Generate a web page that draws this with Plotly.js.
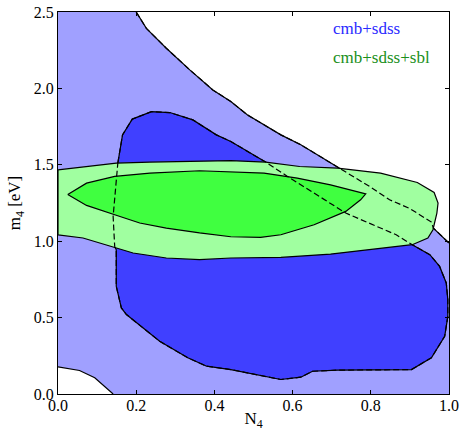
<!DOCTYPE html>
<html><head><meta charset="utf-8">
<script src="https://cdn.plot.ly/plotly-3.0.1.min.js"></script>
<style>html,body{margin:0;padding:0;background:#fff}#plot{width:462px;height:431px}</style>
</head><body><div id="plot"></div>
<script>
// Axis ranges
const xRange = [0, 1];
const yRange = [0, 2.5];
const xTicks = [0, 0.2, 0.4, 0.6, 0.8, 1.0];
const xTickLabels = ["0.0", "0.2", "0.4", "0.6", "0.8", "1.0"];
const yTicks = [0, 0.5, 1.0, 1.5, 2.0, 2.5];
const yTickLabels = ["0.0", "0.5", "1.0", "1.5", "2.0", "2.5"];

// cmb+sdss 95% region: upper-right contour (N4, m4)
const blue95UpperX = [0.200, 0.226, 0.277, 0.337, 0.396, 0.442, 0.484, 0.570, 0.621, 0.715, 0.797, 0.848, 0.899, 0.955, 0.960, 1.000];
const blue95UpperY = [2.500, 2.393, 2.263, 2.121, 1.990, 1.914, 1.827, 1.696, 1.631, 1.485, 1.358, 1.271, 1.215, 1.125, 1.086, 0.988];
// cmb+sdss 95% region: lower-left contour
const blue95LowerX = [0.000, 0.055, 0.094, 0.141];
const blue95LowerY = [0.178, 0.154, 0.106, 0.000];

// cmb+sdss 68% region (closed contour)
const blue68X = [0.153, 0.165, 0.190, 0.239, 0.286, 0.345, 0.405, 0.442, 0.531, 0.587, 0.736, 0.797, 0.865, 0.906, 0.951, 0.976, 0.993, 0.997, 0.997, 0.989, 0.955, 0.904, 0.715, 0.651, 0.621, 0.570, 0.442, 0.380, 0.332, 0.260, 0.217, 0.175, 0.162, 0.149, 0.149, 0.145, 0.141, 0.149, 0.153];
const blue68Y = [1.511, 1.696, 1.799, 1.848, 1.842, 1.794, 1.696, 1.652, 1.518, 1.424, 1.184, 1.119, 1.042, 0.977, 0.912, 0.835, 0.727, 0.618, 0.508, 0.378, 0.237, 0.160, 0.156, 0.149, 0.110, 0.095, 0.160, 0.182, 0.237, 0.345, 0.433, 0.520, 0.563, 0.705, 0.944, 0.966, 1.162, 1.424, 1.511];

// cmb+sdss+sbl 95% region (closed contour)
const green95X = [0.000, 0.064, 0.149, 0.235, 0.442, 0.531, 0.618, 0.715, 0.825, 0.919, 0.962, 0.972, 0.969, 0.959, 0.946, 0.906, 0.800, 0.697, 0.570, 0.442, 0.362, 0.277, 0.192, 0.149, 0.064, 0.000, 0.000];
const green95Y = [1.467, 1.485, 1.511, 1.518, 1.527, 1.518, 1.489, 1.478, 1.446, 1.384, 1.319, 1.250, 1.184, 1.075, 1.021, 0.977, 0.944, 0.916, 0.894, 0.890, 0.879, 0.890, 0.923, 0.956, 1.021, 1.042, 1.467];

// cmb+sdss+sbl 68% region (closed contour)
const green68X = [0.025, 0.073, 0.145, 0.235, 0.362, 0.442, 0.527, 0.612, 0.697, 0.787, 0.774, 0.736, 0.655, 0.570, 0.518, 0.442, 0.362, 0.277, 0.209, 0.145, 0.073, 0.025];
const green68Y = [1.305, 1.380, 1.424, 1.446, 1.461, 1.456, 1.446, 1.413, 1.369, 1.310, 1.271, 1.195, 1.108, 1.042, 1.025, 1.029, 1.054, 1.086, 1.119, 1.173, 1.234, 1.305];

const colLightBlue = "#a0a0ff";
const colBlue = "#4040ff";
const colLightGreen = "#a0ffa0";
const colGreen = "#40ff40";

// Light-blue fill polygon: left-top corner, upper contour, right-bottom corner, lower contour reversed
const blue95FillX = [xRange[0]].concat(blue95UpperX, [xRange[1]], blue95LowerX.slice().reverse());
const blue95FillY = [yRange[1]].concat(blue95UpperY, [yRange[0]], blue95LowerY.slice().reverse());

const solid = {color: "black", width: 1.2};
const dashed = {color: "black", width: 1.2, dash: "6px,3px"};

const traces = [
  {x: blue95FillX, y: blue95FillY, type: "scatter", mode: "lines", fill: "toself", fillcolor: colLightBlue, line: {width: 0}, hoverinfo: "skip"},
  {x: blue95UpperX, y: blue95UpperY, type: "scatter", mode: "lines", line: solid, hoverinfo: "skip"},
  {x: blue95LowerX, y: blue95LowerY, type: "scatter", mode: "lines", line: solid, hoverinfo: "skip"},
  {x: blue68X, y: blue68Y, type: "scatter", mode: "lines", fill: "toself", fillcolor: colBlue, line: solid, hoverinfo: "skip"},
  {x: green95X, y: green95Y, type: "scatter", mode: "lines", fill: "toself", fillcolor: colLightGreen, line: solid, hoverinfo: "skip"},
  {x: green68X, y: green68Y, type: "scatter", mode: "lines", fill: "toself", fillcolor: colGreen, line: solid, hoverinfo: "skip"},
  {x: blue95UpperX, y: blue95UpperY, type: "scatter", mode: "lines", line: dashed, hoverinfo: "skip"},
  {x: blue68X, y: blue68Y, type: "scatter", mode: "lines", line: dashed, hoverinfo: "skip"}
];

const font = "Liberation Serif";
const axisCommon = {
  showgrid: false, zeroline: false, showline: true, linecolor: "black", linewidth: 1,
  mirror: "ticks", ticks: "inside", ticklen: 4, tickcolor: "black", tickwidth: 1,
  tickfont: {family: font, size: 16, color: "black"}, fixedrange: true
};

const layout = {
  width: 462, height: 431,
  margin: {l: 58, r: 13, t: 12, b: 37},
  paper_bgcolor: "white", plot_bgcolor: "white",
  showlegend: false,
  font: {family: font, color: "black"},
  xaxis: Object.assign({}, axisCommon, {
    range: xRange, tickvals: xTicks, ticktext: xTickLabels, ticklabelstandoff: -3,
    title: {text: "N<sub>4</sub>", font: {family: font, size: 17, color: "black"}, standoff: 0}
  }),
  yaxis: Object.assign({}, axisCommon, {
    range: yRange, tickvals: yTicks, ticktext: yTickLabels,
    title: {text: "m<sub>4</sub> [eV]", font: {family: font, size: 17, color: "black"}, standoff: 8}
  }),
  annotations: [
    {xref: "paper", yref: "paper", x: 0.699, y: 0.958, xanchor: "left", yanchor: "middle", showarrow: false,
     text: "cmb+sdss", font: {family: font, size: 17, color: "#2a2aff"}},
    {xref: "paper", yref: "paper", x: 0.699, y: 0.881, xanchor: "left", yanchor: "middle", showarrow: false,
     text: "cmb+sdss+sbl", font: {family: font, size: 17, color: "#1a8f1a"}}
  ]
};

Plotly.newPlot("plot", traces, layout, {staticPlot: true, displayModeBar: false});
</script>
</body></html>
